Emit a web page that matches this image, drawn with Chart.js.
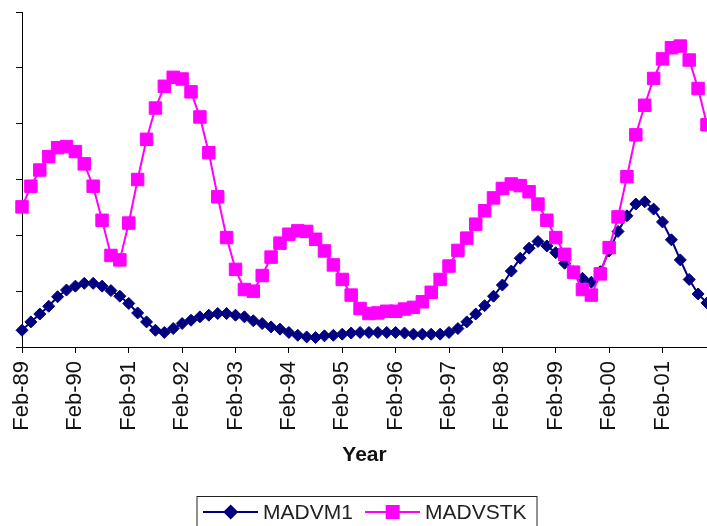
<!DOCTYPE html>
<html lang="en">
<head>
    <meta charset="UTF-8">
    <meta name="viewport" content="width=device-width, initial-scale=1.0">
    <title>MADVM1 and MADVSTK</title>
    <script src="https://cdn.jsdelivr.net/npm/chart.js"></script>
    <style>
        body {
            margin: 0;
            padding: 0;
            background: #ffffff;
        }

        .wrap {
            width: 707px;
            height: 526px;
            position: relative;
        }
    </style>
</head>
<body>
    <div class="wrap">
        <canvas id="madChart"></canvas>
    </div>

    <script>
        // bimonthly observations, Feb-89 .. Dec-01
        const months = ["Feb", "Apr", "Jun", "Aug", "Oct", "Dec"];
        const years = ["89", "90", "91", "92", "93", "94", "95", "96", "97", "98", "99", "00", "01"];
        const labels = years.flatMap(y => months.map(m => m + "-" + y));

        const madvm1 = [
            0.30, 0.45, 0.59, 0.73, 0.90, 1.02, 1.09, 1.14, 1.14, 1.09, 1.01, 0.91,
            0.78, 0.61, 0.45, 0.30, 0.26, 0.33, 0.42, 0.48, 0.54, 0.57, 0.60, 0.60,
            0.57, 0.54, 0.47, 0.42, 0.36, 0.32, 0.26, 0.21, 0.18, 0.17, 0.20, 0.21,
            0.23, 0.25, 0.26, 0.26, 0.26, 0.26, 0.26, 0.25, 0.23, 0.23, 0.23, 0.23,
            0.26, 0.33, 0.45, 0.59, 0.74, 0.91, 1.11, 1.36, 1.59, 1.77, 1.89, 1.81,
            1.69, 1.50, 1.35, 1.23, 1.16, 1.35, 1.72, 2.07, 2.35, 2.56, 2.60, 2.47,
            2.24, 1.92, 1.56, 1.21, 0.95, 0.79
        ];

        const madvstk = [
            2.51, 2.88, 3.17, 3.41, 3.57, 3.59, 3.50, 3.28, 2.88, 2.27, 1.64, 1.56,
            2.22, 3.00, 3.72, 4.28, 4.67, 4.83, 4.80, 4.57, 4.12, 3.48, 2.69, 1.96,
            1.39, 1.03, 1.00, 1.28, 1.61, 1.86, 2.02, 2.08, 2.07, 1.93, 1.72, 1.47,
            1.21, 0.93, 0.69, 0.60, 0.61, 0.64, 0.64, 0.68, 0.71, 0.81, 0.98, 1.21,
            1.45, 1.73, 1.95, 2.20, 2.44, 2.67, 2.84, 2.92, 2.89, 2.78, 2.56, 2.27,
            1.96, 1.66, 1.34, 1.03, 0.93, 1.31, 1.78, 2.33, 3.05, 3.80, 4.33, 4.81,
            5.16, 5.36, 5.39, 5.14, 4.63, 3.98
        ];

        const blue = "#000080";
        const pink = "#ff00ff";
        const fontFamily = "'Liberation Sans', Arial, sans-serif";

        // legend in a framed box, line + marker like the original
        const boxLegend = {
            id: "boxLegend",
            afterDraw(chart) {
                const ctx = chart.ctx;
                const cx = (chart.chartArea.left + chart.chartArea.right) / 2;
                const top = chart.height - 30;
                const cy = top + 16;

                ctx.save();
                ctx.strokeStyle = "#222";
                ctx.lineWidth = 1;
                ctx.strokeRect(cx - 167.5, top + 0.5, 340, 40);

                ctx.lineWidth = 2;
                ctx.strokeStyle = blue;
                ctx.beginPath();
                ctx.moveTo(cx - 161.5, cy);
                ctx.lineTo(cx - 106.5, cy);
                ctx.stroke();
                ctx.fillStyle = blue;
                ctx.beginPath();
                ctx.moveTo(cx - 133.8, cy - 7.5);
                ctx.lineTo(cx - 126.3, cy);
                ctx.lineTo(cx - 133.8, cy + 7.5);
                ctx.lineTo(cx - 141.3, cy);
                ctx.closePath();
                ctx.fill();

                ctx.strokeStyle = pink;
                ctx.beginPath();
                ctx.moveTo(cx + 0.5, cy);
                ctx.lineTo(cx + 55.5, cy);
                ctx.stroke();
                ctx.fillStyle = pink;
                ctx.fillRect(cx + 28.2 - 7, cy - 7, 14, 14);

                ctx.fillStyle = "#222";
                ctx.font = "21px " + fontFamily;
                ctx.textBaseline = "middle";
                ctx.fillText("MADVM1", cx - 101.5, cy + 1);
                ctx.fillText("MADVSTK", cx + 60.5, cy + 1);
                ctx.restore();
            }
        };

        const config = {
            type: "line",
            data: {
                labels: labels,
                datasets: [
                    {
                        label: "MADVM1",
                        data: madvm1,
                        borderColor: blue,
                        backgroundColor: blue,
                        borderWidth: 2,
                        tension: 0,
                        pointStyle: "rectRot",
                        pointRadius: 6,
                        pointBorderWidth: 1,
                        clip: false,
                        order: 1,
                    },
                    {
                        label: "MADVSTK",
                        data: madvstk,
                        borderColor: pink,
                        backgroundColor: pink,
                        borderWidth: 2,
                        tension: 0,
                        pointStyle: "rect",
                        pointRadius: 8.8,
                        pointBorderWidth: 1,
                        clip: false,
                        order: 0,
                    },
                ],
            },
            options: {
                responsive: true,
                maintainAspectRatio: false,
                animation: false,
                layout: {
                    autoPadding: false,
                    padding: { left: 16, top: 12, right: 0, bottom: 58 },
                },
                plugins: {
                    legend: { display: false },
                    tooltip: { enabled: false },
                },
                scales: {
                    x: {
                        offset: false,
                        border: { color: "#000", width: 1 },
                        grid: {
                            drawOnChartArea: false,
                            drawTicks: true,
                            tickLength: 6,
                            color: "#000",
                        },
                        ticks: {
                            autoSkip: false,
                            maxRotation: 90,
                            minRotation: 90,
                            padding: 8,
                            color: "#111",
                            font: { family: fontFamily, size: 22 },
                            callback: function (value, index) {
                                return index % 6 === 0 ? this.getLabelForValue(value) : null;
                            },
                        },
                        title: {
                            display: true,
                            text: "Year",
                            color: "#111",
                            padding: 0,
                            font: { family: fontFamily, size: 21, weight: "bold", lineHeight: 1.2 },
                        },
                        afterFit(scale) {
                            scale.height = 121;
                            // plot runs to the right edge, as in the cropped original
                            scale.paddingLeft = 0;
                            scale.paddingRight = 0;
                        },
                    },
                    y: {
                        min: 0,
                        max: 6,
                        border: { color: "#000", width: 1 },
                        grid: {
                            drawOnChartArea: false,
                            drawTicks: true,
                            tickLength: 6,
                            color: "#000",
                        },
                        ticks: {
                            display: false,
                            stepSize: 1,
                        },
                    },
                },
            },
            plugins: [boxLegend],
        };

        const ctx = document.getElementById("madChart").getContext("2d");
        const madChart = new Chart(ctx, config);
    </script>
</body>
</html>
